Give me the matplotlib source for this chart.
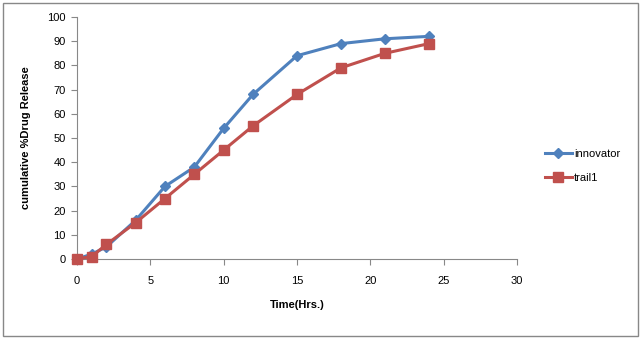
import matplotlib
matplotlib.use("Agg")
import matplotlib.pyplot as plt
from matplotlib.patches import Rectangle

time_hrs = [0, 1, 2, 4, 6, 8, 10, 12, 15, 18, 21, 24]
innovator = [0, 2, 5, 16, 30, 38, 54, 68, 84, 89, 91, 92]
trail1 = [0, 1, 6, 15, 25, 35, 45, 55, 68, 79, 85, 89]
x_ticks = [0, 5, 10, 15, 20, 25, 30]
y_ticks = list(range(0, 101, 10))

plt.rcParams['font.family'] = ['Liberation Sans', 'DejaVu Sans']

fig = plt.figure(figsize=(6.42, 3.5), dpi=100)
fig.patches.append(Rectangle((3/642, 1-336/350), 635/642, 333/350, transform=fig.transFigure,
                             fill=False, edgecolor='#888888', linewidth=1))
ax = fig.add_axes([77/642, 1-259/350, 440/642, 242/350])

ax.plot(time_hrs, innovator, color='#4F81BD', linewidth=2.2, marker='D', markersize=5,
        label='innovator', clip_on=False, zorder=3)
ax.plot(time_hrs, trail1, color='#C0504D', linewidth=2.2, marker='s', markersize=7,
        label='trail1', clip_on=False, zorder=4)

ax.set_xlim(0, 30)
ax.set_ylim(0, 100)
ax.set_xticks(x_ticks)
ax.set_yticks(y_ticks)
for s in ['top', 'right']:
    ax.spines[s].set_visible(False)
for s in ['left', 'bottom']:
    ax.spines[s].set_color('#888888')
ax.tick_params(axis='both', direction='out', length=4, color='#888888', labelsize=8, pad=4)
ax.tick_params(axis='x', pad=8)
ax.set_xlabel('Time(Hrs.)', fontsize=8, fontweight='bold', labelpad=10)
ax.set_ylabel('cumulative %Drug Release', fontsize=8, fontweight='bold', labelpad=12)

ax.legend(loc='center left', bbox_to_anchor=(535/642, 1-166/350), bbox_transform=fig.transFigure,
          frameon=False, fontsize=8, handlelength=2.4, handletextpad=0.2, labelspacing=1.2)

fig.savefig('out.png', dpi=100)
